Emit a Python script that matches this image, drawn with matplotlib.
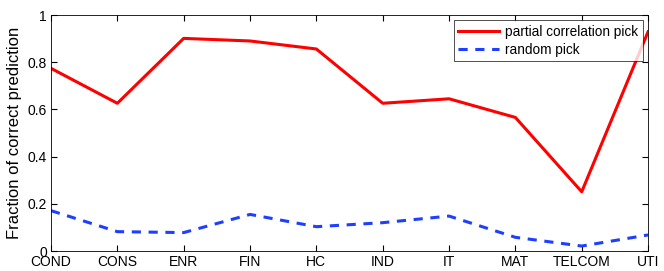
import numpy as np
import matplotlib
matplotlib.use("Agg")
from matplotlib import pyplot as plt

sectors = ["COND", "CONS", "ENR", "FIN", "HC", "IND", "IT", "MAT", "TELCOM", "UTI"]
partial_corr = [0.774, 0.626, 0.901, 0.890, 0.856, 0.626, 0.645, 0.566, 0.251, 0.929]
random_pick = [0.171, 0.082, 0.078, 0.155, 0.103, 0.120, 0.148, 0.058, 0.021, 0.068]

plt.rcParams['font.family'] = ['Liberation Sans', 'DejaVu Sans']

fig = plt.figure(figsize=(6.64, 2.71), dpi=100)
ax = fig.add_axes([0.0768, 0.0738, 0.8992, 0.8708])
x = np.arange(len(sectors))
ax.plot(x, partial_corr, color="#ff0000", lw=2.2, label="partial correlation pick")
ax.plot(x, random_pick, color="#1f3fff", lw=2.2, ls=(0, (3, 2.5)), label="random pick")

ax.set_xlim(0, len(sectors) - 1)
ax.set_ylim(0, 1)
ax.set_xticks(x)
ax.set_xticklabels(sectors)
ax.set_yticks([0, 0.2, 0.4, 0.6, 0.8, 1])
ax.set_yticklabels(["0", "0.2", "0.4", "0.6", "0.8", "1"])
ax.tick_params(direction="in", top=True, right=True, labelsize=10, length=4, pad=3)
ax.set_ylabel("Fraction of correct prediction", fontsize=12, labelpad=4)
for s in ax.spines.values():
    s.set_linewidth(0.6)

leg = ax.legend(loc="upper right", fontsize=9.8, frameon=True, fancybox=False,
                borderpad=0.3, handlelength=3.0, labelspacing=0.3,
                borderaxespad=0.4, handletextpad=0.5)
leg.get_frame().set_edgecolor("black")
leg.get_frame().set_linewidth(0.6)

fig.savefig("out.png", dpi=100)
